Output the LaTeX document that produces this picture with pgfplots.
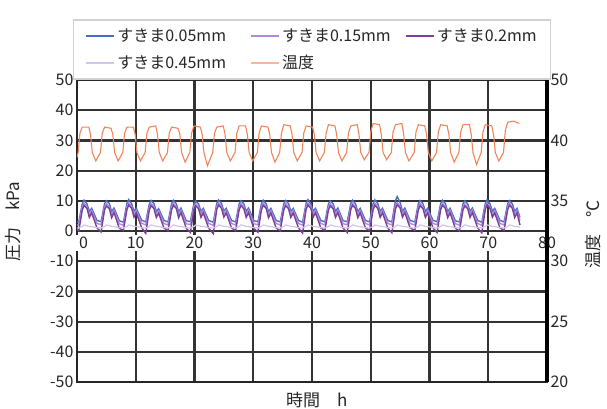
\documentclass[border=0pt]{standalone}
\usepackage{fontspec}
\setmainfont{Noto Sans CJK JP}
\usepackage{pgfplots}
\usepackage{pgfplotstable}
\pgfplotsset{compat=1.18}
\definecolor{cB}{HTML}{4A6CC8}
\definecolor{cL}{HTML}{B08AD8}
\definecolor{cD}{HTML}{7B3F98}
\definecolor{cV}{HTML}{CFC6EA}
\definecolor{cT}{HTML}{F2845A}
\definecolor{cTL}{HTML}{F8B89A}

% t  b(0.05)  l(0.15)  d(0.2)  v(0.45)
\pgfplotstableread{
t b l d v
0.0 3.0 2.0 0.5 1.0
0.3 3.0 2.0 0.0 1.0
0.9 9.0 8.0 7.0 1.5
1.2 10.2 9.2 8.5 2.0
1.7 9.0 8.0 7.5 1.8
2.1 6.5 5.5 4.5 1.5
2.5 7.5 6.8 6.0 1.5
3.4 3.5 2.5 1.0 1.1
4.1 3.1 2.1 -0.3 1.0
4.7 9.1 8.1 7.1 1.5
5.0 10.0 9.0 8.3 2.0
5.5 9.1 8.1 7.4 1.8
5.9 6.4 5.4 4.4 1.5
6.3 7.6 6.9 6.1 1.5
7.2 3.4 2.4 0.9 1.1
7.9 2.9 1.9 0.2 1.0
8.5 9.2 8.1 7.1 1.5
8.8 10.4 9.3 8.6 2.0
9.3 9.0 8.0 7.5 1.8
9.7 6.6 5.6 4.6 1.5
10.1 7.5 6.8 6.0 1.5
11.0 3.6 2.6 1.1 1.1
11.7 3.0 2.0 -0.8 1.0
12.3 8.9 7.9 6.9 1.5
12.6 10.1 9.1 8.4 2.0
13.1 9.1 8.1 7.4 1.8
13.5 6.5 5.5 4.5 1.5
13.9 7.4 6.7 5.9 1.5
14.8 3.5 2.5 1.0 1.1
15.5 3.0 2.0 0.1 1.0
16.1 9.0 8.0 7.0 1.5
16.4 10.2 9.2 8.5 2.0
16.9 9.0 8.0 7.5 1.8
17.3 6.4 5.4 4.4 1.5
17.7 7.6 6.9 6.1 1.5
18.6 3.4 2.4 0.9 1.1
19.3 3.1 2.1 -0.5 1.0
19.9 9.1 8.1 7.1 1.5
20.2 9.9 9.0 8.3 2.0
20.7 9.0 8.0 7.4 1.8
21.1 6.5 5.5 4.5 1.5
21.5 7.5 6.8 6.0 1.5
22.4 3.5 2.5 1.0 1.1
23.2 2.9 1.9 -0.9 1.0
23.8 9.2 8.2 7.2 1.5
24.1 10.3 9.3 8.6 2.0
24.6 9.1 8.1 7.5 1.8
25.0 6.6 5.6 4.6 1.5
25.4 7.5 6.8 6.0 1.5
26.3 3.5 2.5 1.0 1.1
27.0 3.0 2.0 0.1 1.0
27.6 9.0 8.0 7.0 1.5
27.9 10.0 9.1 8.4 2.0
28.4 9.0 8.0 7.4 1.8
28.8 6.5 5.5 4.5 1.5
29.2 7.6 6.9 6.1 1.5
30.1 3.4 2.4 0.9 1.1
30.8 3.1 2.1 -0.4 1.0
31.4 9.1 8.1 7.1 1.5
31.7 10.2 9.2 8.5 2.0
32.2 9.0 8.0 7.5 1.8
32.6 6.4 5.4 4.4 1.5
33.0 7.5 6.8 6.0 1.5
33.9 3.5 2.5 1.0 1.1
34.6 3.0 2.0 0.0 1.0
35.2 9.0 8.0 7.0 1.5
35.5 10.1 9.1 8.4 2.0
36.0 9.1 8.1 7.4 1.8
36.4 6.5 5.5 4.5 1.5
36.8 7.5 6.8 6.0 1.5
37.7 3.5 2.5 1.0 1.1
38.4 2.9 1.9 -0.7 1.0
39.0 9.2 8.2 7.2 1.5
39.3 10.4 9.3 8.6 2.0
39.8 9.0 8.0 7.5 1.8
40.2 6.6 5.6 4.6 1.5
40.6 7.5 6.8 6.0 1.5
41.5 3.5 2.5 1.0 1.1
42.2 3.0 2.0 0.2 1.0
42.8 9.0 8.0 7.0 1.5
43.1 10.0 9.0 8.3 2.0
43.6 9.0 8.0 7.4 1.8
44.0 6.5 5.5 4.5 1.5
44.4 7.6 6.9 6.1 1.5
45.3 3.4 2.4 0.9 1.1
46.0 3.1 2.1 -0.5 1.0
46.6 9.1 8.1 7.1 1.5
46.9 10.2 9.2 8.5 2.0
47.4 9.0 8.0 7.5 1.8
47.8 6.4 5.4 4.4 1.5
48.2 7.5 6.8 6.0 1.5
49.1 3.5 2.5 1.0 1.1
49.8 3.0 2.0 0.1 1.0
50.4 9.0 8.0 7.0 1.5
50.7 10.3 9.2 8.5 2.0
51.2 9.1 8.1 7.5 1.8
51.6 6.5 5.5 4.5 1.5
52.0 7.5 6.8 6.0 1.5
52.9 3.5 2.5 1.0 1.1
53.6 3.0 2.0 -0.6 1.0
54.2 10.0 8.3 7.2 1.5
54.5 11.4 9.4 8.7 2.0
55.0 9.4 8.2 7.6 1.8
55.4 6.6 5.6 4.6 1.5
55.8 7.6 6.9 6.1 1.5
56.7 3.5 2.5 1.0 1.1
57.5 3.0 2.0 0.2 1.0
58.1 9.0 8.0 7.0 1.5
58.4 10.1 9.1 8.4 2.0
58.9 9.0 8.0 7.4 1.8
59.3 6.5 5.5 4.5 1.5
59.7 7.5 6.8 6.0 1.5
60.6 3.5 2.5 1.0 1.1
61.3 3.1 2.1 -0.5 1.0
61.9 9.1 8.1 7.1 1.5
62.2 10.2 9.2 8.5 2.0
62.7 9.1 8.1 7.5 1.8
63.1 6.4 5.4 4.4 1.5
63.5 7.5 6.8 6.0 1.5
64.4 3.4 2.4 0.9 1.1
65.1 3.0 2.0 0.0 1.0
65.7 9.0 8.0 7.0 1.5
66.0 10.0 9.0 8.3 2.0
66.5 9.0 8.0 7.4 1.8
66.9 6.5 5.5 4.5 1.5
67.3 7.6 6.9 6.1 1.5
68.2 3.5 2.5 1.0 1.1
68.9 2.9 1.9 -0.6 1.0
69.5 9.2 8.2 7.2 1.5
69.8 10.3 9.3 8.6 2.0
70.3 9.0 8.0 7.5 1.8
70.7 6.6 5.6 4.6 1.5
71.1 7.5 6.8 6.0 1.5
72.0 3.5 2.5 1.0 1.1
72.7 3.0 2.0 0.2 1.0
73.3 9.0 8.0 7.0 1.5
73.6 10.1 9.2 8.5 2.0
74.1 9.0 8.0 7.5 1.8
74.5 6.5 5.5 4.5 1.5
74.9 7.5 6.8 6.0 1.5
75.4 4.5 3.5 2.0 1.2
}\pressure

\pgfplotstableread{
t T
0.0 38.6
0.2 39.0
0.5 40.6
0.9 41.1
2.0 41.1
2.3 40.5
2.6 39.0
3.2 38.3
4.0 39.0
4.3 40.6
4.7 41.1
5.8 41.0
6.1 40.5
6.4 39.0
7.0 38.3
7.8 39.0
8.1 40.6
8.5 41.1
9.6 41.1
9.9 40.5
10.2 39.0
10.8 38.3
11.6 39.0
11.9 40.6
12.3 41.1
13.4 41.2
13.7 40.5
14.0 39.0
14.6 38.3
15.4 39.0
15.7 40.6
16.1 41.1
17.2 41.0
17.5 40.5
17.8 39.0
18.4 38.2
19.2 39.0
19.5 40.6
19.9 41.2
21.0 41.1
21.3 40.5
21.6 39.0
22.2 37.9
23.1 39.0
23.4 40.6
23.8 41.1
24.9 41.2
25.2 40.5
25.5 39.0
26.1 38.3
26.9 39.0
27.2 40.6
27.6 41.2
28.7 41.2
29.0 40.5
29.3 39.0
29.9 38.3
30.7 39.0
31.0 40.6
31.4 41.2
32.5 41.1
32.8 40.5
33.1 39.0
33.7 38.2
34.5 39.0
34.8 40.6
35.2 41.3
36.3 41.2
36.6 40.5
36.9 39.0
37.5 38.3
38.3 39.0
38.6 40.6
39.0 41.2
40.1 41.1
40.4 40.5
40.7 39.0
41.3 38.3
42.1 39.0
42.4 40.6
42.8 41.3
43.9 41.2
44.2 40.5
44.5 39.0
45.1 38.3
45.9 39.0
46.2 40.6
46.6 41.2
47.7 41.3
48.0 40.5
48.3 39.0
48.9 38.4
49.7 39.0
50.0 40.7
50.4 41.4
51.5 41.3
51.8 40.5
52.1 39.0
52.7 38.4
53.5 39.0
53.8 40.7
54.2 41.3
55.3 41.4
55.6 40.5
55.9 39.0
56.5 38.3
57.4 39.0
57.7 40.7
58.1 41.3
59.2 41.2
59.5 40.5
59.8 39.0
60.4 38.3
61.2 39.0
61.5 40.7
61.9 41.3
63.0 41.2
63.3 40.5
63.6 39.0
64.2 38.2
65.0 39.0
65.3 40.7
65.7 41.3
66.8 41.3
67.1 40.5
67.4 39.0
68.0 38.0
68.8 39.0
69.1 40.7
69.5 41.3
70.6 41.2
70.9 40.5
71.2 39.0
71.8 38.3
72.6 39.0
72.9 40.8
73.3 41.5
74.3 41.6
74.8 41.5
75.3 41.4
}\temp

\begin{document}
\begin{tikzpicture}
\useasboundingbox (-77pt,-26pt) rectangle (530pt,382pt);
\begin{axis}[
  scale only axis, width=470pt, height=302pt,
  at={(0pt,0pt)}, anchor=south west,
  xmin=0, xmax=80, ymin=-50, ymax=50,
  xtick={0,10,...,80}, ytick={-50,-40,...,50},
  xticklabels={\hspace{13pt}0,10,20,30,40,50,60,70,80\hspace{13pt}},
  ytick pos=left,
  grid=major,
  major grid style={line width=2.2pt, black!80},
  axis line style={line width=2.2pt, black!85},
  tick style={draw=none},
  /pgf/number format/assume math mode=true,
  ticklabel style={font=\fontsize{16}{16}\selectfont, text=black!85},
  xticklabel style={yshift=147pt, fill=white, inner sep=2pt},
  xlabel={時間　h},
  xlabel style={at={(axis description cs:0.51,-0.06)}, anchor=center, font=\fontsize{17}{17}\selectfont, text=black!85},
  ylabel={圧力　kPa},
  ylabel style={at={(axis description cs:-0.135,0.53)}, anchor=center, font=\fontsize{17}{17}\selectfont, text=black!85},
  legend columns=3,
  legend style={at={(axis description cs:0.5,1)}, anchor=south,
    draw=black!18, line width=1.5pt, fill=white,
    font=\fontsize{16}{16}\selectfont, text=black!85,
    cells={anchor=west}, inner xsep=12pt, inner ysep=7pt,
    row sep=8pt,
    /tikz/column 2/.style={column sep=22pt},
    /tikz/column 4/.style={column sep=12pt}},
  legend image code/.code={\draw[#1, line width=2pt] (0pt,0pt) -- (28pt,0pt);},
]
\addplot[cB, line width=1.4pt] table[x=t, y=b] {\pressure};
\addlegendentry{すきま0.05mm}
\addplot[cL, line width=1.4pt] table[x=t, y=l] {\pressure};
\addlegendentry{すきま0.15mm}
\addplot[cD, line width=1.4pt] table[x=t, y=d] {\pressure};
\addlegendentry{すきま0.2mm}
\addplot[cV, line width=1.2pt] table[x=t, y=v] {\pressure};
\addlegendentry{すきま0.45mm}
\addlegendimage{cTL, line width=2pt}
\addlegendentry{温度}
\end{axis}
\begin{axis}[
  scale only axis, width=470pt, height=302pt,
  at={(0pt,0pt)}, anchor=south west,
  xmin=0, xmax=80, ymin=20, ymax=45,
  axis x line=none, axis y line*=right,
  ytick={20,25,...,45}, yticklabels={20,25,30,35,40,50},
  y axis line style={line width=3.5pt, black},
  tick style={draw=none},
  /pgf/number format/assume math mode=true,
  ticklabel style={font=\fontsize{16}{16}\selectfont, text=black!85},
  ylabel={温度　℃},
  ylabel style={at={(axis description cs:1.098,0.49)}, anchor=center, rotate=0, font=\fontsize{17}{17}\selectfont, text=black!85},
]
\addplot[cT, line width=1.1pt] table[x=t, y=T] {\temp};
\end{axis}
\end{tikzpicture}
\end{document}
